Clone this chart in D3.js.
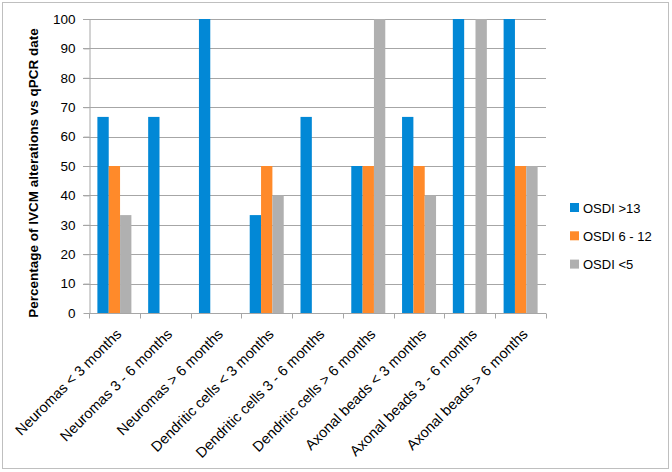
<!DOCTYPE html>
<html>
<head>
<meta charset="utf-8">
<script src="https://cdn.jsdelivr.net/npm/d3@7"></script>
<style>
  body { margin: 0; background: #fff; }
  text { font-family: "Liberation Sans", Arial, sans-serif; fill: #000; }
</style>
</head>
<body>
<div id="chart"></div>
<script>
var categories = ["Neuromas < 3 months", "Neuromas 3 - 6 months", "Neuromas > 6 months",
    "Dendritic cells < 3 months", "Dendritic cells 3 - 6 months", "Dendritic cells > 6 months",
    "Axonal beads < 3 months", "Axonal beads 3 - 6 months", "Axonal beads > 6 months"];
var seriesNames = ["OSDI >13", "OSDI 6 - 12", "OSDI <5"];
var osdiHigh = [66.7, 66.7, 100, 33.3, 66.7, 50, 66.7, 100, 100];
var osdiMid = [50, 0, 0, 50, 0, 50, 50, 0, 50];
var osdiLow = [33.3, 0, 0, 40, 0, 100, 40, 100, 50];
var yTicks = [0, 10, 20, 30, 40, 50, 60, 70, 80, 90, 100];
var colors = ["#0288d6", "#ff8a2a", "#b0b0b0"];

var width = 672, height = 472;
var margin = { top: 19, right: 126, bottom: 159, left: 89 };

var svg = d3.select("#chart").append("svg")
    .attr("width", width)
    .attr("height", height);

// outer frame
svg.append("rect")
    .attr("x", 2.5).attr("y", 2.5)
    .attr("width", 666).attr("height", 466)
    .attr("fill", "none")
    .attr("stroke", "#bfbfbf");

var x = d3.scaleBand()
    .domain(categories)
    .range([margin.left, width - margin.right])
    .padding(0);

var xs = d3.scaleBand()
    .domain(seriesNames)
    .range([0, x.bandwidth()])
    .paddingInner(0)
    .paddingOuter(0.74);

var y = d3.scaleLinear()
    .domain([0, 100])
    .range([height - margin.bottom, margin.top]);

// grid lines
svg.append("g")
    .selectAll("line")
    .data(yTicks.slice(1))
    .join("line")
    .attr("x1", margin.left - 6)
    .attr("x2", width - margin.right)
    .attr("y1", d => Math.round(y(d)) + 0.5)
    .attr("y2", d => Math.round(y(d)) + 0.5)
    .attr("stroke", "#a6a6a6");

// y axis
svg.append("g")
    .attr("transform", `translate(${margin.left + 0.5},0)`)
    .call(d3.axisLeft(y).tickValues(yTicks).tickSize(6).tickPadding(8).tickSizeOuter(0))
    .call(g => g.selectAll(".domain, line").attr("stroke", "#a6a6a6"))
    .call(g => g.selectAll("text").attr("font-size", 13.5).attr("font-family", "Liberation Sans"));

// bars
var series = [osdiHigh, osdiMid, osdiLow];
series.forEach(function (vals, si) {
    svg.append("g")
        .selectAll("rect")
        .data(vals.map((v, i) => ({ c: categories[i], v: v })).filter(d => d.v > 0))
        .join("rect")
        .attr("x", d => x(d.c) + xs(seriesNames[si]))
        .attr("width", xs.bandwidth())
        .attr("y", d => y(d.v))
        .attr("height", d => y(0) - y(d.v))
        .attr("fill", colors[si]);
});

// x axis
var xAxis = svg.append("g")
    .attr("transform", `translate(0,${Math.round(y(0)) + 0.5})`);
xAxis.append("line")
    .attr("x1", margin.left).attr("x2", width - margin.right)
    .attr("stroke", "#a6a6a6");
xAxis.selectAll(".tk")
    .data(d3.range(categories.length + 1))
    .join("line")
    .attr("class", "tk")
    .attr("x1", i => Math.round(margin.left + i * x.step()) + 0.5)
    .attr("x2", i => Math.round(margin.left + i * x.step()) + 0.5)
    .attr("y1", 0).attr("y2", 5)
    .attr("stroke", "#a6a6a6");

svg.append("g")
    .selectAll("text")
    .data(categories)
    .join("text")
    .attr("transform", d => `translate(${x(d) + x.bandwidth() / 2 + 8},335) rotate(-45)`)
    .attr("text-anchor", "end")
    .attr("font-size", 14.5)
    .text(d => d);

// y title
svg.append("text")
    .attr("transform", `translate(38,173) rotate(-90)`)
    .attr("text-anchor", "middle")
    .attr("font-size", 13.5)
    .attr("font-weight", "bold")
    .text("Percentage of IVCM alterations vs qPCR date");

// legend
var legend = svg.append("g")
    .selectAll("g")
    .data(seriesNames)
    .join("g")
    .attr("transform", (d, i) => `translate(570,${203 + i * 28.3})`);
legend.append("rect")
    .attr("width", 9).attr("height", 9)
    .attr("fill", (d, i) => colors[i]);
legend.append("text")
    .attr("x", 13).attr("y", 9.5)
    .attr("font-size", 13)
    .text(d => d);
</script>
</body>
</html>
